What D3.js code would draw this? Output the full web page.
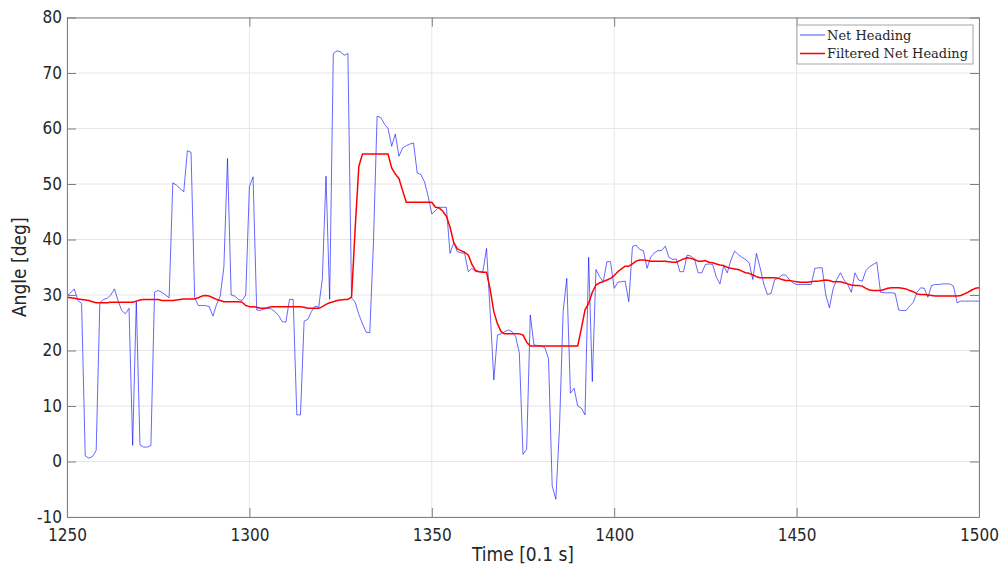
<!DOCTYPE html>
<html>
<head>
<meta charset="utf-8">
<script src="https://cdn.jsdelivr.net/npm/d3@7"></script>
<style>
  body { margin: 0; background: #fff; }
  svg { display: block; }
</style>
</head>
<body>
<svg id="chart" width="1003" height="566"></svg>
<script>
// Sample times run from 1250 to 1500 in steps of one (unit: 0.1 s)
const timeStart = 1250;

// Raw net heading (deg), one sample per time step
const netHeading = [
  29.8, 30.4, 31.1, 29.0, 28.5, 1.0, 0.6, 0.9, 2.0, 28.6,
  29.2, 29.4, 30.0, 31.1, 29.0, 27.2, 26.6, 27.6, 2.9, 28.9,
  3.0, 2.6, 2.6, 2.9, 30.5, 30.8, 30.5, 30.0, 29.5, 50.2,
  49.8, 49.2, 48.6, 56.0, 55.7, 29.5, 28.1, 28.1, 28.1, 27.9,
  26.2, 28.3, 29.8, 35.0, 54.6, 30.0, 29.8, 29.2, 29.0, 30.0,
  49.5, 51.3, 27.3, 27.2, 27.5, 27.6, 27.5, 27.0, 26.3, 25.2,
  25.1, 29.2, 29.2, 8.4, 8.4, 25.3, 25.6, 27.0, 28.0, 27.8,
  33.0, 51.4, 29.2, 73.5, 74.0, 73.8, 73.2, 73.5, 29.5, 28.7,
  26.5, 24.8, 23.3, 23.2, 39.4, 62.2, 62.0, 60.8, 60.0, 56.8,
  59.0, 55.0, 56.5, 56.9, 57.2, 57.4, 52.0, 51.7, 50.4, 47.8,
  44.6, 45.2, 45.8, 45.8, 45.8, 37.5, 39.4, 37.8, 37.6, 37.5,
  34.2, 34.8, 34.2, 34.2, 34.2, 38.4, 27.0, 14.7, 22.8, 23.0,
  23.4, 23.7, 23.4, 22.5, 19.5, 1.3, 2.2, 26.4, 21.0, 20.9,
  20.8, 20.5, 18.5, -4.4, -6.8, 6.0, 27.0, 33.0, 12.3, 13.2,
  10.0, 9.6, 8.4, 36.8, 14.4, 34.6, 33.3, 32.4, 36.0, 36.0,
  31.2, 32.3, 32.4, 32.5, 28.8, 38.7, 39.0, 38.2, 38.0, 34.8,
  36.8, 37.6, 38.0, 38.0, 38.8, 36.8, 36.4, 36.5, 34.2, 34.2,
  37.2, 37.0, 36.5, 34.0, 34.0, 35.5, 35.6, 35.5, 33.2, 32.0,
  35.3, 34.0, 36.3, 37.9, 37.3, 36.8, 36.4, 35.8, 32.8, 37.5,
  34.9, 32.0, 30.1, 30.3, 32.8, 33.0, 33.6, 33.6, 32.8, 32.2,
  31.9, 31.9, 31.9, 31.9, 31.9, 34.8, 34.9, 34.9, 30.0, 27.7,
  31.1, 32.8, 34.0, 32.7, 31.9, 30.5, 34.0, 32.7, 32.5, 34.4,
  35.1, 35.5, 35.9, 30.5, 30.4, 30.4, 30.4, 30.3, 27.3, 27.2,
  27.2, 28.0, 28.7, 30.5, 31.3, 31.2, 29.6, 31.7, 31.9, 31.9,
  32.0, 32.0, 32.0, 31.6, 28.6, 28.9, 28.9, 28.9, 28.9, 28.9,
  28.9
];

// Filtered net heading (deg), same time base
const filteredHeading = [
  29.6, 29.5, 29.4, 29.3, 29.2, 29.1, 29.0, 28.8, 28.6, 28.6,
  28.6, 28.6, 28.7, 28.7, 28.7, 28.7, 28.7, 28.7, 28.7, 28.9,
  29.1, 29.2, 29.2, 29.2, 29.2, 29.2, 29.0, 29.0, 29.0, 29.0,
  29.1, 29.2, 29.3, 29.3, 29.3, 29.3, 29.5, 29.8, 29.9, 29.8,
  29.5, 29.2, 29.0, 28.8, 28.8, 28.8, 28.8, 28.8, 28.7, 28.1,
  27.9, 27.9, 27.8, 27.6, 27.6, 27.7, 27.9, 27.9, 27.9, 27.9,
  27.9, 27.9, 27.9, 27.9, 27.9, 27.8, 27.6, 27.6, 27.6, 27.6,
  27.9, 28.3, 28.6, 28.8, 29.0, 29.1, 29.2, 29.2, 29.6, 42.0,
  53.2, 55.4, 55.4, 55.4, 55.4, 55.4, 55.4, 55.4, 55.4, 52.9,
  51.8, 51.0, 48.8, 46.7, 46.7, 46.7, 46.7, 46.7, 46.7, 46.7,
  46.7, 45.8, 45.7, 45.1, 44.2, 42.2, 39.5, 38.3, 38.0, 37.7,
  37.2, 35.5, 34.4, 34.2, 34.1, 34.1, 31.0, 27.0, 24.8, 23.4,
  23.0, 23.0, 23.0, 23.0, 23.0, 22.8, 21.5, 20.8, 20.8, 20.8,
  20.8, 20.8, 20.8, 20.8, 20.8, 20.8, 20.8, 20.8, 20.8, 20.8,
  20.8, 24.0, 27.3, 28.5, 30.5, 31.8, 32.2, 32.4, 32.7, 33.0,
  33.5, 34.2, 34.7, 35.2, 35.2, 35.6, 36.1, 36.3, 36.3, 36.2,
  36.1, 36.1, 36.1, 36.1, 36.1, 36.0, 35.9, 35.9, 36.2, 36.5,
  36.7, 36.6, 36.4, 36.1, 36.1, 36.2, 35.9, 35.8, 35.6, 35.4,
  35.3, 35.0, 34.8, 34.7, 34.6, 34.3, 34.0, 33.9, 33.6, 33.3,
  33.1, 33.1, 33.1, 33.1, 33.1, 33.0, 32.8, 32.6, 32.6, 32.5,
  32.4, 32.3, 32.3, 32.3, 32.4, 32.5, 32.5, 32.6, 32.7, 32.6,
  32.4, 32.4, 32.4, 32.2, 32.0, 31.8, 31.7, 31.7, 31.6, 31.2,
  30.9, 30.8, 30.8, 30.8, 31.0, 31.2, 31.3, 31.3, 31.3, 31.2,
  31.1, 30.8, 30.6, 30.2, 30.1, 30.1, 30.0, 29.9, 29.8, 29.8,
  29.8, 29.8, 29.8, 29.8, 29.8, 29.9, 30.2, 30.5, 30.9, 31.2,
  31.3
];

const xTicks = [1250, 1300, 1350, 1400, 1450, 1500];
const yTicks = [-10, 0, 10, 20, 30, 40, 50, 60, 70, 80];
const seriesNames = ["Net Heading", "Filtered Net Heading"];
const seriesColors = ["#0000ff", "#ff0000"];

const svg = d3.select("#chart");
const plot = { left: 67, right: 979, top: 17.5, bottom: 517 };

const x = d3.scaleLinear().domain([1250, 1500]).range([plot.left, plot.right]);
const y = d3.scaleLinear().domain([-10, 80]).range([plot.bottom, plot.top]);

const tickFont = "'DejaVu Sans Condensed', 'DejaVu Sans', sans-serif";
const axisColor = "#262626";
const frameColor = "#7f7f7f";
const tickLen = 9;
const plainNumber = d => String(d);

// Grid
const grid = svg.append("g");
grid.selectAll("line.gx").data(xTicks).join("line")
  .attr("x1", d => x(d)).attr("x2", d => x(d))
  .attr("y1", plot.top).attr("y2", plot.bottom)
  .attr("stroke", "#e6e6e6").attr("stroke-width", 1);
grid.selectAll("line.gy").data(yTicks).join("line")
  .attr("x1", plot.left).attr("x2", plot.right)
  .attr("y1", d => y(d)).attr("y2", d => y(d))
  .attr("stroke", "#e6e6e6").attr("stroke-width", 1);

// Data lines
const pts = arr => arr.map((v, i) => [timeStart + i, v]);
const line = d3.line().x(d => x(d[0])).y(d => y(d[1]));

svg.append("path").datum(pts(netHeading))
  .attr("d", line).attr("fill", "none")
  .attr("stroke", seriesColors[0]).attr("stroke-width", 0.6)
  .attr("stroke-linejoin", "round");
svg.append("path").datum(pts(filteredHeading))
  .attr("d", line).attr("fill", "none")
  .attr("stroke", seriesColors[1]).attr("stroke-width", 1.5)
  .attr("stroke-linejoin", "round");

// Axes (box with inward ticks on all sides)
const xAxisB = d3.axisBottom(x).tickValues(xTicks).tickFormat(plainNumber)
  .tickSizeInner(-tickLen).tickSizeOuter(0).tickPadding(12);
const xAxisT = d3.axisTop(x).tickValues(xTicks).tickFormat("")
  .tickSizeInner(-tickLen).tickSizeOuter(0);
const yAxisL = d3.axisLeft(y).tickValues(yTicks).tickFormat(plainNumber)
  .tickSizeInner(-tickLen).tickSizeOuter(0).tickPadding(5);
const yAxisR = d3.axisRight(y).tickValues(yTicks).tickFormat("")
  .tickSizeInner(-tickLen).tickSizeOuter(0);

function styleAxis(g) {
  g.selectAll(".domain").attr("stroke", frameColor);
  g.selectAll(".tick line").attr("stroke", frameColor);
  g.selectAll(".tick text").attr("fill", axisColor)
    .style("font-family", tickFont).style("font-size", "17px");
}

svg.append("g").attr("transform", `translate(0,${plot.bottom})`).call(xAxisB).call(styleAxis);
svg.append("g").attr("transform", `translate(0,${plot.top})`).call(xAxisT).call(styleAxis);
svg.append("g").attr("transform", `translate(${plot.left},0)`).call(yAxisL).call(styleAxis);
svg.append("g").attr("transform", `translate(${plot.right},0)`).call(yAxisR).call(styleAxis);

// Axis titles
svg.append("text")
  .attr("x", (plot.left + plot.right) / 2).attr("y", 561)
  .attr("text-anchor", "middle")
  .style("font-family", tickFont).style("font-size", "19px")
  .attr("fill", axisColor)
  .text("Time [0.1 s]");
svg.append("text")
  .attr("transform", `translate(26,${(plot.top + plot.bottom) / 2}) rotate(-90)`)
  .attr("text-anchor", "middle")
  .style("font-family", tickFont).style("font-size", "19px")
  .attr("fill", axisColor)
  .text("Angle [deg]");

// Legend
const legend = svg.append("g").attr("transform", "translate(797,25)");
legend.append("rect")
  .attr("width", 176).attr("height", 39)
  .attr("fill", "#fff").attr("stroke", "#a6a6a6").attr("stroke-width", 1);
seriesNames.forEach((name, i) => {
  const yy = 10 + i * 18.5;
  legend.append("line")
    .attr("x1", 3).attr("x2", 28).attr("y1", yy).attr("y2", yy)
    .attr("stroke", seriesColors[i]).attr("stroke-width", i === 0 ? 0.7 : 1.5);
  legend.append("text")
    .attr("x", 30).attr("y", yy + 4.5)
    .style("font-family", "'DejaVu Serif', serif").style("font-size", "13px")
    .attr("fill", "#262626")
    .text(name);
});
</script>
</body>
</html>
